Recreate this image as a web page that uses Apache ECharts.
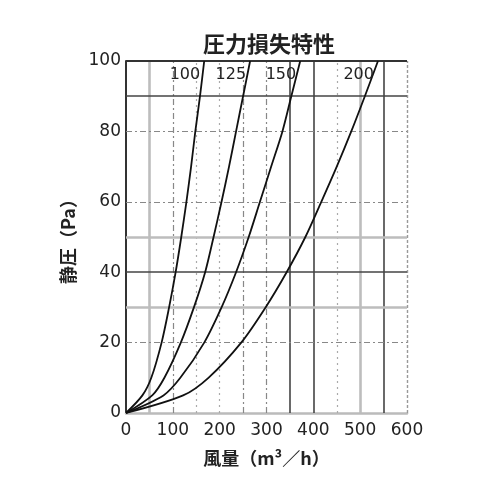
<!DOCTYPE html>
<html>
<head>
<meta charset="utf-8">
<script src="https://cdn.jsdelivr.net/npm/echarts@6/dist/echarts.min.js"></script>
<style>
    html, body { margin: 0; padding: 0; background: #fff; }
    #chart { width: 500px; height: 500px; }
</style>
</head>
<body>
<div id="chart"></div>
<script>
// Chart data
const titleText = '圧力損失特性';
const xName = '風量（m³／h）';
const yName = '静圧（Pa）';

// static pressure levels (Pa) where the air volume was read
const pressures = [0, 5, 10, 20, 30, 40, 50, 60, 70, 80, 90, 100];

// air volume (m3/h) per duct size, one entry per pressure level
const duct100 = [0, 35, 54, 76, 92, 106, 118, 129, 139, 148, 158, 167];
const duct125 = [0, 56, 82, 117, 145, 169, 187, 204, 220, 235, 250, 265];
const duct150 = [0, 80, 116, 167, 204, 235, 262, 286, 310, 334, 353, 372];
const duct200 = [0, 122, 176, 246, 298, 343, 383, 417, 450, 481, 510, 538];

const ductNames = ['100', '125', '150', '200'];

// grid lines drawn on the sheet
const vLines = [50, 100, 150, 200, 250, 300, 350, 400, 450, 500, 550, 600];
const hLines = [20, 30, 40, 50, 60, 80, 90, 100];

// Line looks of the scan (keyed by kind)
const looks = {
    dark:   { color: '#444', width: 1.6, type: 'solid' },
    gray:   { color: '#bdbdbd', width: 2.6, type: 'solid' },
    dash:   { color: '#888', width: 1.2, type: [6, 3, 2, 3] },
    dotted: { color: '#aaa', width: 1.2, type: [2, 4] },
    border: { color: '#999', width: 1.4, type: [3, 2] }
};
function vLook(v) {
    if (v === 50 || v === 500) return looks.gray;
    if (v === 350 || v === 400 || v === 550) return looks.dark;
    if (v === 100 || v === 250 || v === 300) return looks.dash;
    if (v === 600) return looks.border;
    return looks.dotted;
}
function hLook(v) {
    if (v === 30 || v === 50) return looks.gray;
    if (v === 40 || v === 90) return looks.dark;
    if (v === 100) return { color: '#333', width: 1.8, type: 'solid' };
    return looks.dash;
}

const numFont = 'DejaVu Sans, sans-serif';
const jpFont = 'Noto Sans CJK JP, sans-serif';

const chart = echarts.init(document.getElementById('chart'));

const markLineData = []
    .concat(vLines.map(v => ({ xAxis: v, lineStyle: vLook(v) })))
    .concat(hLines.map(v => ({ yAxis: v, lineStyle: hLook(v) })));

const curves = [duct100, duct125, duct150, duct200];

chart.setOption({
    animation: false,
    title: {
        text: titleText,
        left: 264,
        top: 28,
        textAlign: 'center',
        textStyle: { fontFamily: jpFont, fontSize: 22, fontWeight: 'bold', color: '#222' }
    },
    grid: { left: 126, top: 61, width: 281, height: 352 },
    xAxis: {
        type: 'value',
        min: 0, max: 600, interval: 100,
        name: xName,
        nameLocation: 'middle',
        nameGap: 36,
        nameTextStyle: { fontFamily: jpFont, fontSize: 18, fontWeight: 'bold', color: '#222' },
        axisLine: { show: true, lineStyle: { color: '#bbb', width: 2.5 } },
        axisTick: { show: false },
        splitLine: { show: false },
        axisLabel: { fontFamily: numFont, fontSize: 17, color: '#222', margin: 9 }
    },
    yAxis: {
        type: 'value',
        min: 0, max: 100, interval: 20,
        name: yName,
        nameLocation: 'middle',
        nameGap: 42,
        nameTextStyle: { fontFamily: jpFont, fontSize: 18, fontWeight: 'bold', color: '#222' },
        axisLine: { show: true, lineStyle: { color: '#333', width: 2 } },
        axisTick: { show: false },
        splitLine: { show: false },
        axisLabel: { fontFamily: numFont, fontSize: 17, color: '#222', margin: 5 }
    },
    series: curves.map((vols, i) => ({
        type: 'line',
        name: ductNames[i],
        data: vols.map((q, j) => [q, pressures[j]]),
        smooth: 0.3,
        showSymbol: false,
        lineStyle: { color: '#111', width: 1.8 },
        endLabel: {
            show: true,
            formatter: ductNames[i],
            align: 'right',
            verticalAlign: 'middle',
            offset: [-12, 14],
            fontFamily: numFont,
            fontSize: 16,
            color: '#222'
        },
        z: 5,
        markLine: i === 0 ? {
            silent: true,
            symbol: 'none',
            label: { show: false },
            z: 1,
            data: markLineData
        } : undefined
    }))
});
</script>
</body>
</html>
